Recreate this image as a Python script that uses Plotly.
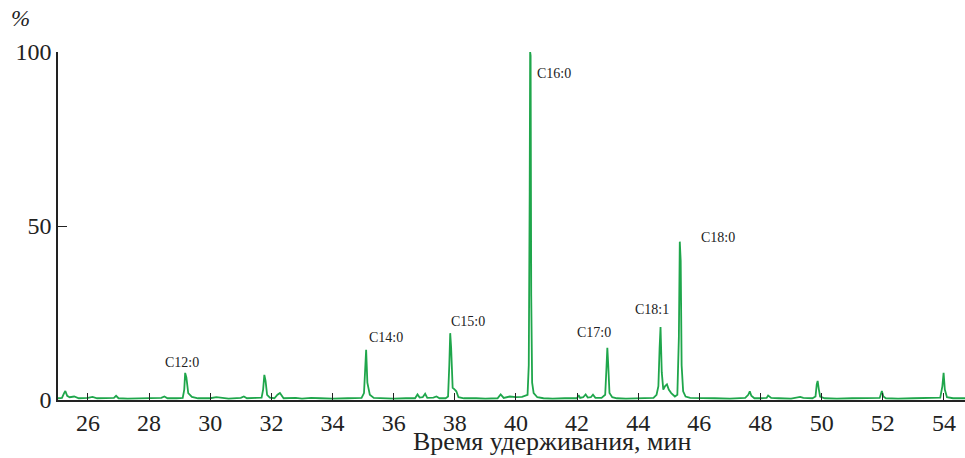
import plotly.graph_objects as go

# Retention time (min) and relative intensity (%)
time_min = [
    25.02, 25.15, 25.22, 25.26, 25.32, 25.40, 25.55, 25.70, 26.00, 26.15, 26.30, 26.50,
    26.85, 26.92, 27.00, 27.30, 27.70, 28.00, 28.40, 28.50, 28.60, 28.90,
    29.10, 29.15, 29.18, 29.22, 29.28, 29.40, 29.60, 30.00, 30.20, 30.60, 31.00, 31.10,
    31.20, 31.50,
    31.68, 31.73, 31.77, 31.81, 31.86, 31.95, 32.10, 32.20, 32.28, 32.40, 32.80, 33.00,
    33.30, 33.60, 34.00, 34.50,
    34.95, 35.03, 35.07, 35.10, 35.14, 35.22, 35.35, 35.60, 36.00, 36.40,
    36.70, 36.78, 36.85, 36.95, 37.03, 37.10, 37.30, 37.40, 37.50, 37.70,
    37.78, 37.82, 37.85, 37.88, 37.93, 38.00, 38.05, 38.12, 38.30, 38.70, 39.00,
    39.40, 39.50, 39.60, 39.80, 40.00, 40.20, 40.38, 40.42, 40.45, 40.465, 40.48, 40.50,
    40.53, 40.58, 40.70, 40.90, 41.20, 41.60,
    42.00, 42.05, 42.10, 42.20, 42.28, 42.35, 42.45, 42.52, 42.60, 42.80, 42.92, 42.96,
    42.99, 43.02, 43.06, 43.15, 43.30, 43.60, 44.00, 44.30,
    44.50, 44.60, 44.66, 44.70, 44.73, 44.77, 44.82, 44.88, 44.94, 45.00, 45.08, 45.20,
    45.28, 45.33, 45.36, 45.39, 45.42, 45.47, 45.55, 45.70, 46.00, 46.50,
    47.00, 47.50, 47.60, 47.65, 47.70, 47.80, 48.00, 48.20, 48.25, 48.35, 48.60, 49.00,
    49.30, 49.40, 49.70, 49.80, 49.84, 49.87, 49.91, 49.95, 50.10, 50.50, 51.00, 51.50,
    51.90, 51.97, 52.02, 52.10, 52.50, 53.00, 53.50, 53.88, 53.95, 53.99, 54.03, 54.10,
    54.30, 54.69,
]
intensity = [
    0.5, 0.6, 2.0, 2.6, 1.2, 0.8, 1.0, 0.5, 0.6, 0.9, 0.5, 0.5,
    0.6, 1.2, 0.5, 0.4, 0.5, 0.5, 0.6, 1.0, 0.5, 0.5,
    0.6, 3.0, 7.8, 6.5, 2.0, 0.9, 0.5, 0.5, 0.8, 0.4, 0.6, 1.0,
    0.5, 0.6,
    0.7, 3.0, 7.2, 5.5, 1.5, 0.7, 0.5, 1.5, 2.0, 0.5, 0.6, 0.4,
    0.6, 0.5, 0.4, 0.5,
    0.6, 2.0, 12.0, 14.4, 5.0, 1.5, 0.6, 0.5, 0.4, 0.5,
    0.5, 1.6, 0.7, 0.8, 1.8, 0.6, 0.7, 1.0, 0.5, 0.5,
    1.0, 10.0, 19.2, 15.0, 3.5, 3.0, 2.5, 0.8, 0.5, 0.5, 0.4,
    0.5, 1.6, 0.6, 1.0, 0.8, 0.9, 1.5, 10.0, 60.0, 100.0, 99.0, 30.0,
    5.0, 2.0, 0.8, 0.5, 0.4, 0.5,
    0.5, 1.4, 0.6, 0.8, 1.6, 0.7, 0.8, 1.5, 0.6, 0.6, 1.5, 9.0,
    15.0, 10.0, 2.0, 0.8, 0.5, 0.4, 0.5, 0.6,
    0.6, 1.5, 4.0, 15.0, 21.0, 8.0, 3.0, 4.0, 4.5, 3.0, 2.0, 1.0,
    1.5, 18.0, 45.5, 40.0, 10.0, 2.5, 1.0, 0.6, 0.5, 0.5,
    0.4, 0.6, 1.5, 2.5, 1.2, 0.5, 0.5, 0.6, 1.3, 0.6, 0.5, 0.4,
    0.9, 0.6, 0.5, 1.0, 4.5, 5.5, 3.0, 1.0, 0.5, 0.4, 0.5, 0.5,
    0.6, 2.6, 1.0, 0.5, 0.4, 0.5, 0.5, 0.7, 4.0, 7.8, 3.0, 0.8,
    0.5, 0.5,
]

# Peak labels and their positions
peak_labels = ["C12:0", "C14:0", "C15:0", "C16:0", "C17:0", "C18:1", "C18:0"]
label_x = [29.07, 35.75, 38.43, 41.24, 42.55, 44.45, 46.61]
label_y = [10.9, 18.1, 22.7, 93.7, 19.3, 25.9, 46.8]

x_ticks = [26, 28, 30, 32, 34, 36, 38, 40, 42, 44, 46, 48, 50, 52, 54]
y_ticks = [0, 50, 100]

SERIF = "Liberation Serif, Times New Roman, serif"

fig = go.Figure()
fig.add_trace(go.Scatter(
    x=time_min, y=intensity, mode="lines",
    line=dict(color="#1fa64b", width=1.8),
    hoverinfo="skip", showlegend=False,
))

for lab, lx, ly in zip(peak_labels, label_x, label_y):
    fig.add_annotation(x=lx, y=ly, text=lab, showarrow=False,
                       font=dict(family=SERIF, size=14, color="#222"),
                       xanchor="center", yanchor="middle")

fig.add_annotation(xref="paper", yref="paper", x=0.545, y=-0.168,
                   text="Время удерживания, мин", showarrow=False,
                   font=dict(family=SERIF, size=26, color="#222"),
                   xanchor="center", yanchor="bottom")
fig.add_annotation(xref="paper", yref="paper", x=-0.041, y=1.095,
                   text="<i>%</i>", showarrow=False,
                   font=dict(family=SERIF, size=23, color="#222"),
                   xanchor="center", yanchor="middle")

fig.update_layout(
    width=965, height=458,
    margin=dict(l=58, r=0, t=52, b=58),
    plot_bgcolor="white", paper_bgcolor="white",
    font=dict(family=SERIF, color="#222"),
)
fig.update_xaxes(
    range=[25.02, 54.69], tickvals=x_ticks, ticktext=[str(v) for v in x_ticks],
    showgrid=False, zeroline=False, showline=True, linecolor="#222", linewidth=1.5,
    ticks="inside", ticklen=7, tickwidth=1.2, tickcolor="#222",
    tickfont=dict(family=SERIF, size=24, color="#222"), automargin=False,
)
fig.update_yaxes(
    range=[0, 100], tickvals=y_ticks, ticktext=[str(v) for v in y_ticks],
    showgrid=False, zeroline=False, showline=True, linecolor="#222", linewidth=1.5,
    ticks="inside", ticklen=9, tickwidth=1.2, tickcolor="#222",
    tickfont=dict(family=SERIF, size=24, color="#222"), automargin=False,
)

fig.write_html("out.html", config={"displayModeBar": False},
               post_script="document.body.style.margin='0';document.body.style.overflow='hidden';")
